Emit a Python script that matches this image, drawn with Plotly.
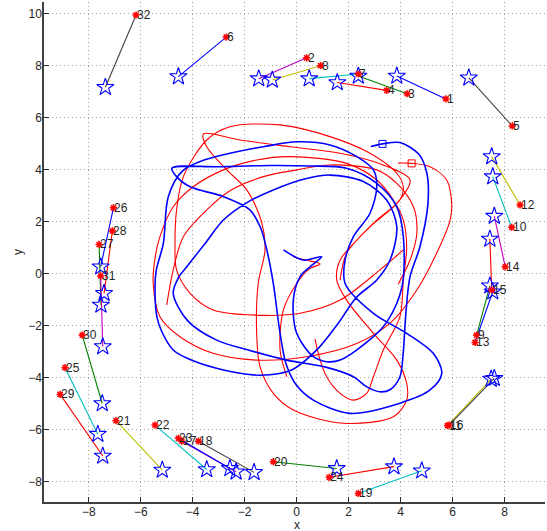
import plotly.graph_objects as go

# ---- data ----
labels = list(range(1, 33))
red_x = [5.74, 0.38, 4.25, 3.46, 8.29, -2.71, 2.37, 0.92, 6.92, 8.27, 5.80, 8.59, 6.86, 8.02, 7.50, 5.86,
         -4.42, -3.78, 2.37, -0.90, -6.95, -5.45, -4.55, 1.25, -8.91, -7.05, -7.60, -7.09, -9.10, -8.25, -7.54, -6.18]
red_y = [6.73, 8.31, 6.93, 7.06, 5.69, 9.11, 7.69, 8.01, -2.36, 1.79, -5.84, 2.65, -2.64, 0.27, -0.62, -5.82,
         -6.44, -6.44, -8.45, -7.23, -5.65, -5.82, -6.33, -7.83, -3.61, 2.54, 1.13, 1.65, -4.64, -2.36, -0.08, 9.96]
star_x = [3.85, -1.46, 2.37, 1.56, 6.62, -4.55, 0.48, -0.94, 7.43, 7.54, 7.48, 7.50, 7.54, 7.60, 7.43, 7.60,
          -2.33, -1.64, 4.81, 1.54, -5.17, -3.46, -2.57, 3.74, -7.65, -7.54, -7.53, -7.41, -7.46, -7.48, -7.46, -7.36]
star_y = [7.61, 7.51, 7.61, 7.36, 7.54, 7.59, 7.51, 7.46, -0.46, 3.74, -4.05, 4.51, -0.69, 2.22, 1.34, -4.02,
          -7.62, -7.64, -7.58, -7.49, -7.55, -7.53, -7.49, -7.42, -6.17, 0.27, -1.20, -0.75, -7.01, -4.99, -2.80, 7.18]
link_colors = ['b', 'm', 'g', 'r', 'k', 'b', 'c', 'y', 'g', 'c', 'y', 'y', 'b', 'm', 'r', 'k',
               'm', 'k', 'c', 'g', 'y', 'c', 'b', 'r', 'c', 'b', 'g', 'r', 'r', 'g', 'm', 'k']

blue_pts = [(2.85,4.9),(3.3,5.0),(3.97,5.05),(4.7,4.6),(5.0,3.9),(5.05,2.72),(4.74,1.04),(4.36,-0.1),(4.2,-1.5),
    (4.1,-3.0),(3.97,-3.96),(3.6,-4.45),(3.2,-4.54),(2.7,-4.35),(2.18,-3.96),(1.15,-3.6),(-0.38,-3.32),(-1.8,-2.95),
    (-3.08,-2.55),(-4.2,-1.8),(-4.75,-0.75),(-4.55,-0.15),(-4.23,0.27),(-3.5,1.2),(-2.82,2.07),(-1.9,2.75),(-0.9,3.23),
    (0.3,3.65),(1.28,3.8),(2.56,3.55),(3.46,2.84),(3.85,1.81),(3.59,0.53),(3.08,-0.24),(2.3,-0.9),(1.6,-1.9),(0.8,-2.9),
    (-0.2,-3.7),(-1.4,-3.9),(-2.82,-3.7),(-4.1,-3.3),(-4.75,-2.93),(-5.2,-2.2),(-5.38,-1.65),(-5.45,-0.5),(-5.4,0.15),
    (-5.13,1.17),(-4.94,2.97),(-4.4,3.95),(-3.5,4.4),(-2.57,4.64),(-1.28,4.89),(0.0,5.08),(1.28,4.96),(2.31,4.51),
    (2.95,4.0),(3.08,3.35),(2.82,2.33),(2.18,1.43),(1.86,0.53),(1.86,-0.37),(2.95,-1.52),(4.23,-2.29),(5.25,-3.06),
    (5.58,-3.83),(5.13,-4.47),(3.97,-4.98),(2.05,-5.37),(0.64,-4.86),(0.0,-4.3),(-0.4,-3.5),(-0.64,-2.29),(-0.9,-0.37),
    (-1.15,0.92),(-1.4,1.8),(-1.8,2.46),(-2.82,2.97),(-4.1,3.35),(-4.62,3.74),(-4.8,4.07),(-3.0,4.12),(-1.0,4.17),
    (0.5,4.15),(1.92,4.06),(3.08,3.48),(3.85,2.58),(4.1,1.43),(4.05,-0.5),(3.5,-1.8),(2.95,-2.42),(1.67,-3.32),
    (1.15,-3.38),(0.64,-3.19),(0.0,-2.29),(-0.13,-1.01),(0.13,-0.11),(0.51,0.27),(0.96,0.66),(0.26,0.53),(-0.51,0.92)]

red_arc_a = [(3.9,4.26),(4.42,4.25),(5.13,4.12),(5.77,3.61),(5.96,2.71),(5.9,2.07),(5.38,0.79),(4.62,-0.62),(3.59,-1.9),
    (2.31,-2.68),(0.38,-3.19),(-1.54,-3.32),(-3.21,-3.06),(-4.49,-2.42),(-5.26,-1.65),(-5.52,-0.37),(-5.45,0.6),
    (-5.26,1.43),(-4.75,2.58),(-3.98,3.35),(-2.82,4.0),(-1.54,4.38),(-0.26,4.51),(1.92,4.25),(3.08,3.61),(3.72,2.84),
    (4.1,2.07),(4.23,1.04),(4.1,-0.24),(3.97,-1.65),(3.33,-2.93),(2.95,-3.96),(2.69,-4.6),(2.18,-4.86),(1.67,-4.6),
    (1.15,-3.96),(0.9,-3.32),(0.7,-2.5)]
red_arc_b = [(4.1,0.92),(3.2,0.15),(1.67,-1.01),(0.13,-1.52),(-1.54,-1.59),(-3.21,-1.39),(-4.1,-0.75),(-4.62,0.15),
    (-4.68,1.17),(-4.62,2.46),(-4.36,3.74),(-3.46,5.15),(-2.57,5.66),(-0.64,5.73),(1.28,5.28),(2.82,4.64),(3.85,3.87),
    (4.1,3.35),(3.97,2.84),(3.08,2.07),(2.31,1.3),(1.67,0.53),(1.54,-0.24),(1.92,-1.01),(2.95,-2.29),(3.85,-3.32),
    (4.23,-4.21),(4.23,-4.86),(3.72,-5.5),(1.79,-5.75),(-0.13,-5.24),(-0.9,-4.6),(-1.41,-3.58),(-1.54,-2.29),
    (-1.48,-0.37),(-1.22,0.92),(-1.35,2.0),(-1.92,3.23),(-2.69,4.0),(-3.46,4.89),(-3.59,5.38),(-2.18,5.15),
    (-0.26,4.89),(1.67,4.64),(3.3,4.2),(4.36,3.61),(3.85,2.71),(2.82,1.81),(1.92,0.79),(1.67,-0.24)]
red_arc_c = [(-5.0,-1.2),(-4.75,0.15),(-4.36,1.43),(-3.46,2.46),(-2.57,3.2),(-1.28,3.74),(0.0,4.0),(1.28,4.19),
    (3.08,4.0),(3.85,3.48),(4.49,2.58),(4.62,1.56),(4.36,0.53),(3.9,-0.4)]
red_arc_d = [(-0.38,-3.96),(-0.64,-2.93),(-0.51,-1.39),(0.0,-0.37),(0.5,0.2),(0.9,0.38),(0.4,0.52),(-0.13,0.66)]

x_ticks = [-8, -6, -4, -2, 0, 2, 4, 6, 8]
y_ticks = [-8, -6, -4, -2, 0, 2, 4, 6, 8, 10]

COLORS = {'b': '#0000ff', 'g': '#008000', 'r': '#ff0000', 'c': '#00bfbf',
          'm': '#bf00bf', 'y': '#bfbf00', 'k': '#404040'}
FONT = 'Liberation Sans, Arial, sans-serif'


def join(*arcs):
    xs, ys = [], []
    for i, arc in enumerate(arcs):
        if i:
            xs.append(None); ys.append(None)
        xs += [p[0] for p in arc]
        ys += [p[1] for p in arc]
    return xs, ys


fig = go.Figure()

rx, ry = join(red_arc_a, red_arc_b, red_arc_c, red_arc_d)
fig.add_trace(go.Scatter(x=rx, y=ry, mode='lines', line=dict(color='#ff0000', width=1.1, shape='spline', smoothing=0.9),
                         connectgaps=False, hoverinfo='skip'))
bx, by = join(blue_pts)
fig.add_trace(go.Scatter(x=bx, y=by, mode='lines', line=dict(color='#0000ff', width=1.6, shape='spline', smoothing=0.9),
                         hoverinfo='skip'))
# start squares
fig.add_trace(go.Scatter(x=[blue_pts[1][0]], y=[blue_pts[1][1]], mode='markers',
                         marker=dict(symbol='square-open', size=7, color='#0000ff', line=dict(width=1))))
fig.add_trace(go.Scatter(x=[red_arc_a[1][0]], y=[red_arc_a[1][1]], mode='markers',
                         marker=dict(symbol='square-open', size=7, color='#ff0000', line=dict(width=1))))

# connecting links
for i in range(len(labels)):
    fig.add_trace(go.Scatter(x=[red_x[i], star_x[i]], y=[red_y[i], star_y[i]], mode='lines',
                             line=dict(color=COLORS[link_colors[i]], width=1.1), hoverinfo='skip'))

fig.add_trace(go.Scatter(x=star_x, y=star_y, mode='markers',
                         marker=dict(symbol='star-open', size=13, color='#0000ff', line=dict(width=1.1, color='#0000ff'))))
fig.add_trace(go.Scatter(x=red_x, y=red_y, mode='markers',
                         marker=dict(symbol='asterisk-open', size=6, color='#ff0000', line=dict(width=1.5, color='#ff0000'))))

for i, lab in enumerate(labels):
    fig.add_annotation(x=red_x[i], y=red_y[i], text=str(lab), showarrow=False, xanchor='left', yanchor='middle',
                       xshift=0, font=dict(family=FONT, size=12, color='#262626'), borderpad=0)

fig.add_annotation(xref='paper', yref='paper', x=0.505, y=-0.046, text='x', showarrow=False, yanchor='middle',
                   font=dict(family=FONT, size=12, color='#262626'))
fig.add_annotation(xref='paper', yref='paper', x=-0.052, y=0.5, text='y', showarrow=False, textangle=-90,
                   xanchor='center', font=dict(family=FONT, size=12, color='#262626'))

axis_common = dict(showgrid=True, gridcolor='#a8a8a8', griddash='1px,3px', gridwidth=1, zeroline=False,
                   showline=True, linecolor='#404040', linewidth=1.5, ticks='inside', ticklen=5,
                   tickcolor='#262626', tickfont=dict(family=FONT, size=12, color='#262626'),
                   automargin=False, mirror=False, ticklabelstandoff=-2)
fig.update_xaxes(range=[-9.72, 9.55], tickvals=x_ticks, **axis_common)
fig.update_yaxes(range=[-8.78, 10.46], tickvals=y_ticks, **axis_common)
fig.update_layout(width=547, height=531, margin=dict(l=44, r=2, t=2, b=29), showlegend=False,
                  plot_bgcolor='white', paper_bgcolor='white')
fig.write_html('out.html', config={'displayModeBar': False},
               post_script="document.body.style.margin='0px';")
